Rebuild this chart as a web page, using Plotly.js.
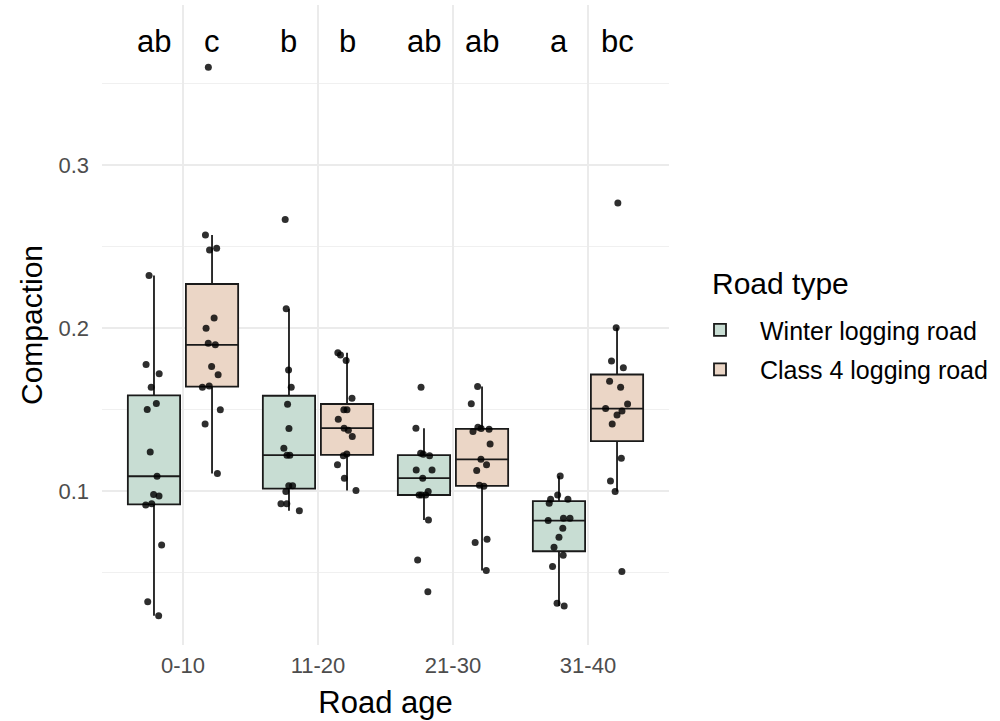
<!DOCTYPE html>
<html>
<head>
<meta charset="utf-8">
<script src="https://cdn.plot.ly/plotly-3.0.1.min.js"></script>
<style>html,body{margin:0;padding:0;background:#fff;}#chart{width:1000px;height:721px;}</style>
</head>
<body>
<div id="chart"></div>
<script>
// Categories
const ageGroups = ['0-10', '11-20', '21-30', '31-40'];
const roadTypes = ['Winter logging road', 'Class 4 logging road'];
const letters = ['ab', 'c', 'b', 'b', 'ab', 'ab', 'a', 'bc']; // winter, class4 per age group

// Compaction values
const winter_0_10  = [0.2321, 0.1775, 0.1718, 0.1636, 0.1536, 0.1500, 0.1238, 0.1090, 0.0978, 0.0969, 0.0921, 0.0914, 0.0668, 0.0321, 0.0235];
const winter_11_20 = [0.2665, 0.2117, 0.1742, 0.1636, 0.1531, 0.1383, 0.1261, 0.1219, 0.1219, 0.1032, 0.1032, 0.0996, 0.0921, 0.0921, 0.0879];
const winter_21_30 = [0.1636, 0.1385, 0.1231, 0.1225, 0.1215, 0.1129, 0.1129, 0.1078, 0.0996, 0.0975, 0.0975, 0.0975, 0.0822, 0.0577, 0.0382];
const winter_31_40 = [0.1092, 0.0975, 0.0949, 0.0949, 0.0925, 0.0832, 0.0832, 0.0818, 0.0771, 0.0716, 0.0655, 0.0605, 0.0536, 0.0311, 0.0294];

const class4_0_10  = [0.3598, 0.2570, 0.2488, 0.2478, 0.2060, 0.1998, 0.1905, 0.1896, 0.1763, 0.1712, 0.1644, 0.1636, 0.1497, 0.1411, 0.1107];
const class4_11_20 = [0.1848, 0.1834, 0.1800, 0.1569, 0.1497, 0.1497, 0.1440, 0.1385, 0.1372, 0.1333, 0.1227, 0.1215, 0.1160, 0.1078, 0.1002];
const class4_21_30 = [0.1640, 0.1534, 0.1390, 0.1382, 0.1378, 0.1364, 0.1288, 0.1194, 0.1160, 0.1125, 0.1034, 0.1028, 0.0704, 0.0683, 0.0512];
const class4_31_40 = [0.2765, 0.2000, 0.1796, 0.1755, 0.1673, 0.1635, 0.1533, 0.1505, 0.1490, 0.1465, 0.1410, 0.1200, 0.1061, 0.0996, 0.0506];

const winterGroups = [winter_0_10, winter_11_20, winter_21_30, winter_31_40];
const class4Groups = [class4_0_10, class4_11_20, class4_21_30, class4_31_40];

const fills = ['#c8ddd3', '#ebd6c6'];
const FONT = 'Liberation Sans, Arial, sans-serif';

function buildTrace(groups, name, fill, idx) {
  const x = [], y = [];
  groups.forEach((vals, i) => vals.forEach(v => { x.push(ageGroups[i]); y.push(v); }));
  return {
    type: 'box', name: name, x: x, y: y,
    legendgroup: 'g' + idx,
    fillcolor: fill,
    line: {color: '#1a1a1a', width: 1.8},
    whiskerwidth: 0,
    boxpoints: 'all', jitter: 0.45, pointpos: 0,
    quartilemethod: 'inclusive',
    marker: {color: 'rgba(0,0,0,0.82)', size: 7, line: {width: 0}},
    hoverinfo: 'skip'
  };
}

const traces = [
  buildTrace(winterGroups, roadTypes[0], fills[0], 0),
  buildTrace(class4Groups, roadTypes[1], fills[1], 1)
];

const dodge = 0.215;
const annotations = letters.map((t, k) => ({
  x: Math.floor(k / 2) + (k % 2 === 0 ? -dodge : dodge),
  y: 0.3755, xref: 'x', yref: 'y',
  text: t, showarrow: false,
  font: {family: FONT, size: 31, color: '#000'},
  xanchor: 'center', yanchor: 'middle'
}));
// legend heading
annotations.push({
  x: 1.0723, y: 0.5656, xref: 'paper', yref: 'paper',
  text: 'Road type', showarrow: false,
  font: {family: FONT, size: 30, color: '#000'},
  xanchor: 'left', yanchor: 'middle'
});

const layout = {
  width: 1000, height: 721,
  margin: {l: 102, r: 331, t: 5, b: 76},
  paper_bgcolor: '#fff', plot_bgcolor: '#fff',
  boxmode: 'group', boxgap: 0.14, boxgroupgap: 0.1,
  showlegend: true,
  legend: {
    x: 1.0194, y: 0.528, xanchor: 'left', yanchor: 'top',
    font: {family: FONT, size: 25, color: '#000'},
    itemwidth: 70,
    tracegroupgap: 4, bgcolor: 'rgba(0,0,0,0)'
  },
  xaxis: {
    type: 'category', categoryorder: 'array', categoryarray: ageGroups,
    range: [-0.6, 3.6],
    showgrid: true, gridcolor: '#ebebeb', gridwidth: 1.8,
    zeroline: false, showline: false, ticks: '',
    tickfont: {family: FONT, size: 22, color: '#4d4d4d'},
    ticklabelstandoff: 5,
    title: {text: 'Road age', font: {family: FONT, size: 31, color: '#000'}, standoff: 14}
  },
  yaxis: {
    range: [0.0055, 0.398],
    tickvals: [0.1, 0.2, 0.3], ticktext: ['0.1', '0.2', '0.3'],
    showgrid: true, gridcolor: '#ebebeb', gridwidth: 1.8,
    minor: {tickvals: [0.05, 0.15, 0.25, 0.35], showgrid: true, gridcolor: '#f0f0f0', gridwidth: 1.1, ticks: ''},
    zeroline: false, showline: false, ticks: '',
    tickfont: {family: FONT, size: 22, color: '#4d4d4d'},
    ticklabelstandoff: 12,
    title: {text: 'Compaction', font: {family: FONT, size: 30, color: '#000'}, standoff: 6}
  },
  annotations: annotations
};

Plotly.newPlot('chart', traces, layout, {displayModeBar: false, staticPlot: true});
</script>
</body>
</html>
